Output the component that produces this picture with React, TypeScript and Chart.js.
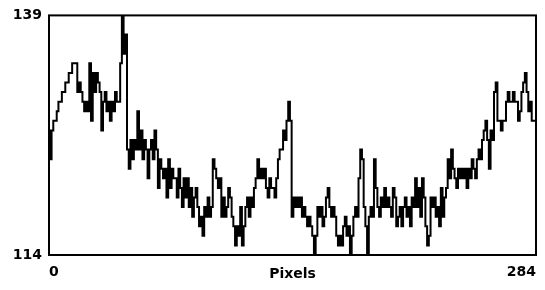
import React, { useEffect, useRef } from "react";
import { Chart, registerables } from "chart.js";

Chart.register(...registerables);

const pixelIndex: number[] = Array.from({ length: 285 }, (_, i) => i);

const intensity: number[] = [
  127, 124, 127, 128, 128, 129, 130, 130, 131, 131,
  132, 132, 133, 133, 134, 134, 134, 131, 132, 131,
  130, 129, 130, 129, 134, 128, 133, 131, 133, 132,
  131, 127, 130, 131, 129, 130, 128, 130, 129, 131,
  130, 130, 134, 139, 135, 137, 125, 123, 126, 124,
  126, 125, 129, 125, 127, 124, 126, 125, 122, 125,
  126, 124, 127, 125, 121, 124, 123, 122, 123, 120,
  124, 121, 123, 122, 122, 120, 123, 121, 119, 122,
  120, 122, 119, 121, 118, 120, 121, 119, 117, 118,
  116, 119, 118, 120, 118, 119, 124, 123, 122, 121,
  122, 118, 120, 118, 119, 121, 120, 118, 117, 115,
  117, 116, 119, 115, 117, 119, 120, 118, 120, 119,
  121, 122, 124, 122, 123, 122, 123, 121, 120, 122,
  121, 121, 120, 122, 124, 125, 125, 127, 126, 128,
  130, 128, 118, 120, 119, 120, 119, 120, 118, 119,
  118, 117, 118, 117, 116, 114, 116, 119, 118, 119,
  117, 118, 120, 121, 119, 118, 119, 118, 116, 115,
  116, 115, 117, 118, 116, 117, 114, 116, 118, 119,
  118, 122, 125, 124, 119, 117, 114, 118, 119, 118,
  124, 121, 119, 118, 120, 119, 121, 119, 120, 119,
  118, 121, 120, 117, 118, 119, 117, 119, 120, 118,
  119, 117, 120, 119, 122, 119, 121, 118, 122, 120,
  117, 115, 116, 120, 119, 120, 118, 119, 117, 121,
  118, 120, 121, 124, 122, 125, 123, 122, 121, 123,
  122, 123, 122, 123, 121, 123, 122, 124, 123, 122,
  124, 125, 124, 126, 127, 128, 126, 123, 127, 126,
  131, 132, 128, 128, 127, 128, 128, 130, 131, 130,
  130, 131, 130, 130, 128, 129, 131, 132, 133, 131,
  129, 130, 128, 128, 128,
];

const xTickValues: number[] = [0, 284];
const yTickValues: number[] = [114, 139];
const xTitle = "Pixels";

const FONT = "'DejaVu Sans', sans-serif";

const boxPlugin = {
  id: "boxPlugin",
  afterDatasetsDraw(chart: any) {
    const { ctx, chartArea } = chart;
    ctx.save();
    ctx.strokeStyle = "#000";
    ctx.lineWidth = 2;
    ctx.strokeRect(chartArea.left, chartArea.top, chartArea.right - chartArea.left, chartArea.bottom - chartArea.top);
    ctx.restore();
  },
};

export default function App() {
  const ref = useRef<HTMLCanvasElement | null>(null);
  useEffect(() => {
    document.body.style.margin = "0";
    const canvas = ref.current;
    if (!canvas) return;
    const chart = new Chart(canvas, {
      type: "line",
      data: {
        datasets: [
          {
            data: pixelIndex.map((x, i) => ({ x, y: intensity[i] })),
            borderColor: "#000",
            borderWidth: 2,
            pointRadius: 0,
            stepped: "middle",
            fill: false,
          },
        ],
      },
      options: {
        animation: false,
        responsive: false,
        events: [],
        layout: { padding: { top: 11, right: 8, left: 0, bottom: 0 } },
        plugins: { legend: { display: false }, tooltip: { enabled: false } },
        scales: {
          x: {
            type: "linear",
            min: 0,
            max: 284,
            grid: { display: false, drawTicks: false },
            border: { display: false },
            afterBuildTicks: (s: any) => {
              s.ticks = xTickValues.map((v) => ({ value: v }));
            },
            afterFit: (s: any) => {
              s.height = 35;
            },
            ticks: {
              autoSkip: false,
              maxRotation: 0,
              align: "inner",
              padding: 9,
              color: "#000",
              font: { family: FONT, weight: "bold", size: 14 },
              callback: (v: any) => String(v),
            },
            title: {
              display: true,
              text: xTitle,
              color: "#000",
              font: { family: FONT, weight: "bold", size: 14 },
              padding: { top: 0, bottom: 7 },
            },
          },
          y: {
            type: "linear",
            min: 114,
            max: 139,
            grid: { display: false, drawTicks: false },
            border: { display: false },
            afterBuildTicks: (s: any) => {
              s.ticks = yTickValues.map((v) => ({ value: v }));
            },
            afterFit: (s: any) => {
              s.width = 49;
            },
            ticks: {
              autoSkip: false,
              padding: 7,
              color: "#000",
              font: { family: FONT, weight: "bold", size: 14 },
              callback: (v: any) => String(v),
            },
          },
        },
      },
      plugins: [boxPlugin],
    } as any);
    return () => chart.destroy();
  }, []);
  return (
    <div style={{ width: 545, height: 290, background: "#fff" }}>
      <canvas ref={ref} width={545} height={290} style={{ display: "block" }} />
    </div>
  );
}
